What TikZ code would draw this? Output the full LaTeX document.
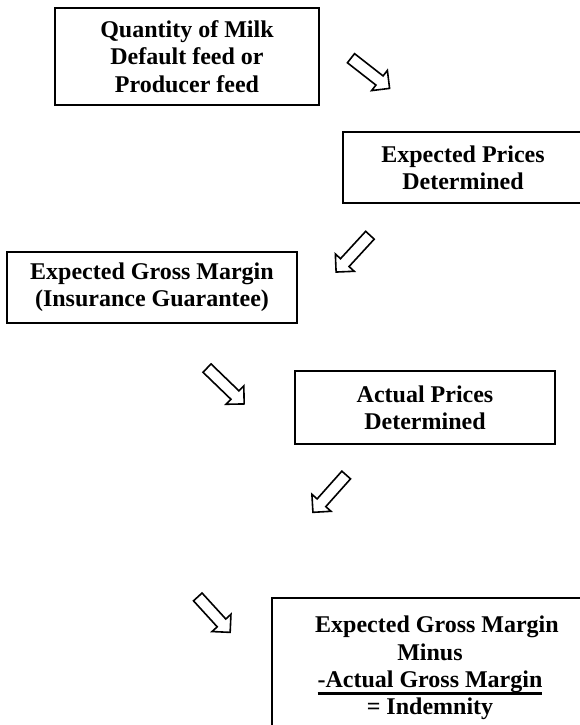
\documentclass[tikz,border=0pt]{standalone}
\usepackage{fontspec}
\setmainfont{Liberation Serif}
\usepackage{tikz}
\usetikzlibrary{shapes, shapes.arrows, positioning}
\tikzstyle{block}=[draw,line width=1pt,rectangle,align=center,inner sep=0pt]
\tikzstyle{flowarrow}=[draw,line width=0.8pt,single arrow,single arrow head extend=3.5pt,inner sep=2.5pt,single arrow head indent=0pt]
\tikzstyle{every node}=[font=\bfseries\fontsize{12}{13.7}\selectfont]
\newcommand{\boldunder}[1]{\leavevmode\setbox0\hbox{#1}\rlap{\rule[-3.6pt]{\wd0}{1.2pt}}\box0}

\begin{document}
\begin{tikzpicture}[x=0.5pt,y=-0.5pt]
  \clip (0,0) rectangle (580,725);
  \node[block, minimum width=132pt, minimum height=48.5pt] (milk) at (187,56.5)
    {Quantity of Milk\\Default feed or\\ Producer feed};
  \node[block, minimum width=120pt, minimum height=35.5pt] (exprice) at (463,167.5)
    {Expected Prices\\Determined};
  \node[block, minimum width=145pt, minimum height=35.5pt] (guarantee) at (152,287.5)
    {Expected Gross Margin\\ (Insurance Guarantee)};
  \node[block, minimum width=130pt, minimum height=36.5pt] (actprice) at (425,407.5)
    {Actual Prices\\Determined};
  \node[block, minimum width=163.5pt, minimum height=71pt] (indemnity) at (435.5,669) {};
  \node[align=center] (indtext) at (430,668)
    {\hspace*{7pt}Expected Gross Margin\\Minus\\\boldunder{-Actual Gross Margin}\\= Indemnity};
  % arrows between the steps
  \node[flowarrow, minimum height=24.5pt, rotate=-38] (arr1) at (368,71.5) {};
  \node[flowarrow, minimum height=25pt, rotate=-132.6] (arr2) at (355,251.5) {};
  \node[flowarrow, minimum height=25.8pt, rotate=-44] (arr3) at (223.5,384) {};
  \node[flowarrow, minimum height=25pt, rotate=-131.7] (arr4) at (331.5,491.5) {};
  \node[flowarrow, minimum height=24pt, rotate=-47.6] (arr5) at (212,612.5) {};
\end{tikzpicture}
\end{document}
